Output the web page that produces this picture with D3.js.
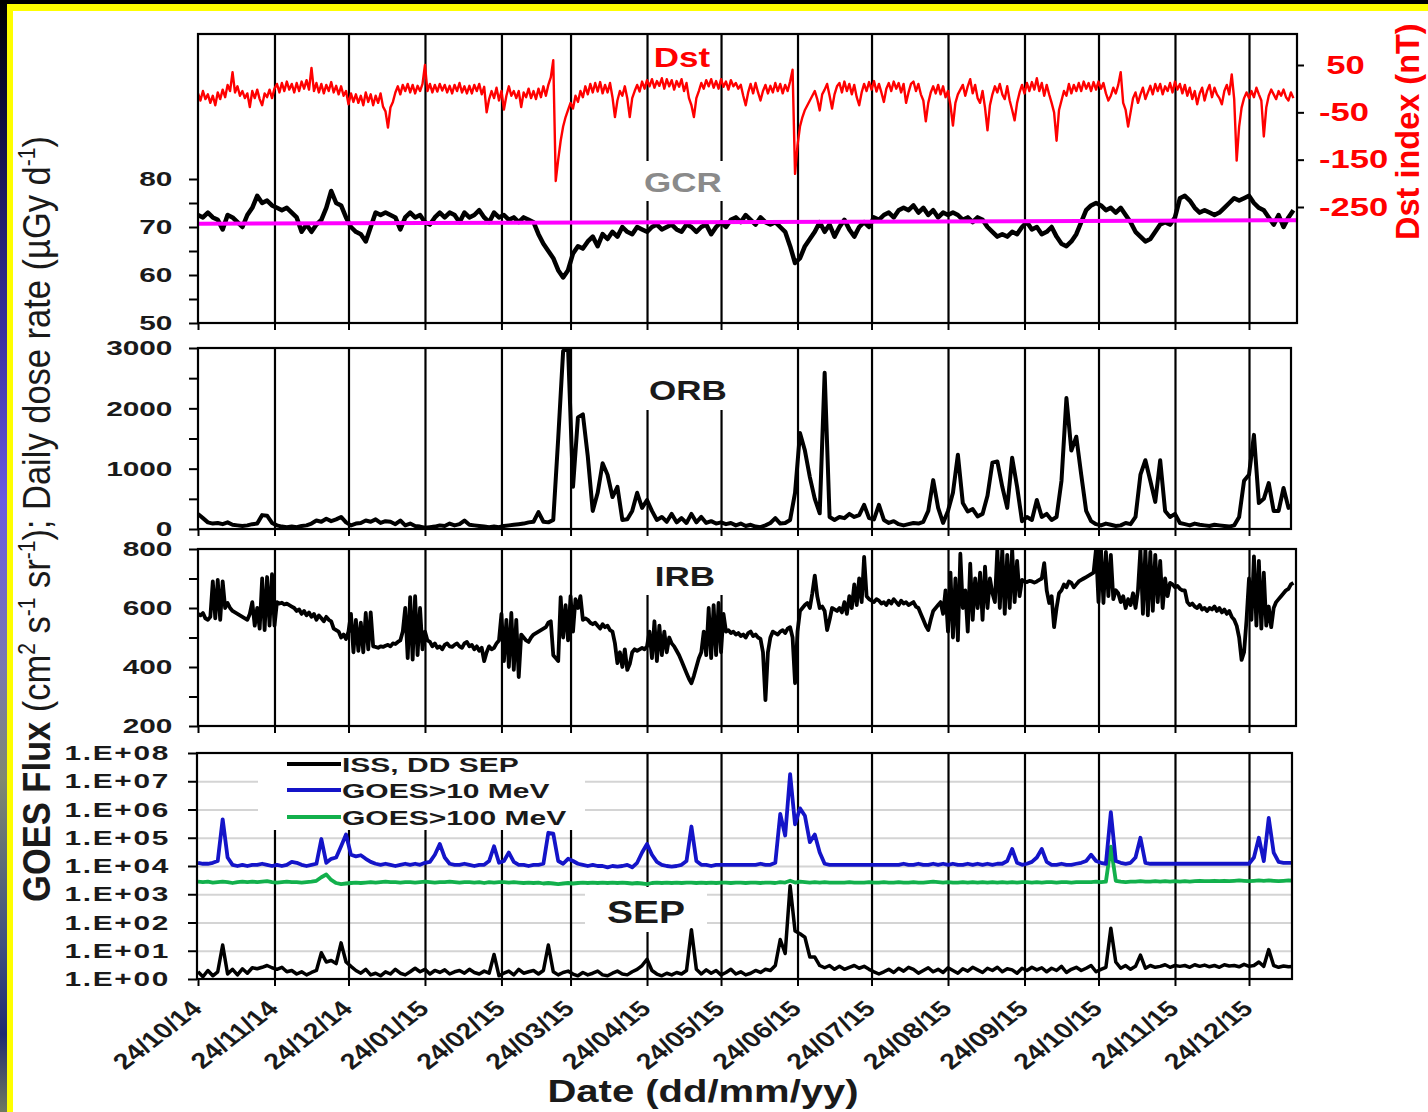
<!DOCTYPE html>
<html lang="en">
<head>
<meta charset="utf-8">
<script src="https://cdnjs.cloudflare.com/ajax/libs/d3/7.8.5/d3.min.js"></script>
<style>
  body { margin: 0; background: #000; }
  svg { display: block; }
  text { font-family: "Liberation Sans", Arial, sans-serif; }
</style>
</head>
<body>
<script>
// ---- data ----
var monthLabels = ["24/10/14","24/11/14","24/12/14","24/01/15","24/02/15","24/03/15","24/04/15",
                   "24/05/15","24/06/15","24/07/15","24/08/15","24/09/15","24/10/15","24/11/15","24/12/15"];

// Dst, one value per day from 24/10/14
var dstValues = [
  -10,-25,-5,-22,-12,-30,-15,-35,-8,-22,  -2,-18,8,-5,35,-8,5,-15,-5,-20,
  -10,-39,-5,-20,-2,-22,-35,-10,-18,-2,  -20,0,10,-8,12,-5,15,-2,10,-8,
  12,-5,15,0,18,-2,44,-5,12,-8,  10,-10,8,-5,14,-8,6,-12,5,-15,
  -5,-33,-10,-28,-12,-30,-15,-35,-8,-28,  -12,-35,-15,-30,-10,-38,-48,-82,-40,-28,
  -8,5,-12,8,-5,10,-8,8,-10,6,  -5,10,50,-5,10,-8,8,-6,10,-4,
  8,-8,6,-10,8,-5,12,-8,5,-10,  6,-10,8,-5,10,-12,4,-50,-22,-5,
  -20,2,-25,-5,-44,-15,5,-15,-5,-20,  -5,-39,-8,-18,0,-20,-5,-22,0,-18,
  5,-15,8,24,60,-195,-150,-110,-80,-60,  -45,-30,-42,-15,-28,-5,-18,5,-12,10,
  -8,12,-6,14,-10,8,-8,12,-18,-60,  -25,-5,-15,5,-20,-60,-20,-5,8,-6,
  15,0,18,5,20,2,16,6,22,0,  20,5,18,-2,16,4,20,-5,12,-20,
  -35,-60,-20,-5,12,0,18,5,20,2,  16,0,20,4,15,-2,18,5,12,0,
  8,-15,-35,-8,10,-10,12,-8,-25,-5,  8,-10,6,-8,12,-5,10,-10,8,-5,
  15,40,-180,-120,-80,-60,-45,-35,-25,-15,  -5,-22,-46,-12,-2,10,-15,-42,-12,5,
  12,-8,15,-5,10,-12,8,-18,-35,-8,  10,-5,14,-2,16,-6,10,-8,-28,0,
  12,-5,15,0,12,-8,10,-30,-8,10,  15,-5,10,-12,-25,-69,-30,-8,5,-10,
  8,-12,5,-18,-5,-35,-78,-30,-12,-2,  8,-15,5,20,-10,8,-20,-30,-5,-40,
  -88,-35,-12,5,-8,10,-12,-22,5,-25,  -45,-67,-30,-8,8,-10,12,-5,14,-2,
  22,-5,12,-15,8,-12,-30,-50,-110,-45,  -25,-5,-15,10,-10,8,-5,12,-5,15,
  0,12,-5,14,-2,15,0,12,-10,-25,  -15,2,-10,8,35,-30,-45,-80,-50,-20,
  -8,-30,-12,2,-22,-8,6,-12,10,-5,  10,-12,5,-5,12,-8,15,-2,10,-10,
  8,-15,2,-22,-5,-33,-10,2,-25,-5,  8,-18,2,-12,-20,-33,-5,8,-12,30,
  -22,-152,-80,-40,-20,-8,-20,-5,-18,2,  -12,-25,-101,-40,-15,-2,-12,-22,-5,-15,
  -2,-18,-25,-8,-20
];

// IRB dose rate, one value per day from 24/10/14
var irbValues = [
  580,575,583,565,560,570,690,565,695,560,  690,600,617,600,590,585,580,575,570,565,
  560,580,620,540,600,530,700,525,705,540,  715,540,620,615,618,612,615,610,605,600,
  590,595,580,590,575,585,570,580,560,575,  565,555,570,560,555,530,525,520,500,510,
  495,520,580,450,560,455,550,450,583,460,  585,470,468,465,470,468,472,475,470,480,
  478,485,490,520,600,430,637,425,640,440,  600,460,520,490,485,470,480,465,470,460,
  475,480,470,468,475,480,470,465,480,485,  470,475,460,470,455,465,420,450,470,460,
  465,480,490,580,420,560,400,583,390,560,  366,510,500,490,485,500,510,515,520,525,
  530,535,550,555,440,430,420,637,500,610,  490,640,520,630,600,640,560,565,560,550,
  545,550,540,530,545,535,540,525,520,480,  413,450,400,460,390,410,450,460,455,460,
  465,460,470,520,430,555,420,540,440,520,  450,500,480,470,455,440,420,400,380,360,
  345,370,400,430,450,520,440,600,430,610,  440,617,450,580,520,525,515,520,510,515,
  505,510,500,515,520,505,510,500,495,450,  288,450,500,520,515,510,520,525,515,530,
  535,500,345,520,590,600,610,617,600,650,  710,640,600,605,590,525,560,600,595,590,
  600,585,620,580,640,600,680,610,700,620,  773,640,630,625,620,630,625,615,620,610,
  625,615,630,620,610,625,615,620,610,615,  620,605,600,580,560,540,525,560,590,600,
  610,620,580,660,520,720,500,700,490,784,  600,660,520,750,560,700,600,720,560,740,
  600,700,650,620,800,600,800,580,780,600,  800,620,760,640,695,690,688,692,690,686,
  690,695,700,752,660,617,640,535,600,650,  660,680,670,690,685,670,680,690,695,700,
  705,710,715,720,800,620,800,617,790,640,  780,630,660,650,620,640,600,630,610,650,
  600,660,800,580,800,575,790,590,780,620,  760,600,700,640,685,680,670,675,665,660,
  660,620,610,615,605,600,610,595,600,590,  600,595,605,590,600,585,595,580,590,570,
  560,540,500,424,450,560,700,560,775,540,  760,530,720,540,605,535,600,620,630,640,
  650,660,665,680,685
];

// the other series: one value every second day from 24/10/14
var gcrValues = [
  72.5,72,73,72,71.5,69.5,72.5,72,71,70,  72.5,74,76.5,75,75.5,74.5,74,73.5,74,73,
  72,69,70.5,69,70.5,71.5,74,77.5,75,74.5,  72,70,69,68.5,67,70,73,72.5,73,72.5,
  72,69.5,72,73,72,72.5,71,70.5,72,73,  72,73,72.5,71,73,72,72.5,73.5,72,71,
  73,72,72.5,71.5,72,71,72,71.5,71,68.5,  66.5,65,63.5,61,59.5,61,64.5,66,65.5,67,
  68,66,68.5,67.5,69,68,70,69,68.5,70,  69.5,69,70,70.5,69.5,70,70.5,69.5,69,70.5,
  70,69,70,70.5,68.5,70,71,70,71.5,72,  71,72.5,71.5,70.5,72,71,70.5,71,70,69,
  66,62.5,63.5,66,67.5,69,71,69,70.5,68,  70,71.5,69.5,68,70,71,70,72,71.5,72.5,
  73,72,73.5,74,73.5,74.5,73,74,72.5,73.5,  72,73,72.5,73,72.5,71.5,72,71,72,71.5,
  70,69,68,68.5,68,69,68.5,70,71,69.5,  70,68.5,69,70,68,66.5,66,67,68.5,71,
  73.5,74.5,75,74.5,73.5,74,73,74,72.5,71,  69,68,67,67.5,69,70.5,71,70.5,72,76,
  76.5,75.5,74,73,73.5,73,72.5,73,74,75,  76,75.5,76,76.5,75,74,73.5,72,70.5,72.5,
  70,72,73.5
];
var gcrTrendDays = [0, 446];
var gcrTrendValues = [70.7, 71.4];

var orbValues = [
  250,180,110,90,100,80,110,70,60,50,  60,80,90,230,220,100,60,40,30,40,
  30,50,60,90,140,120,170,130,160,200,  110,60,90,100,140,120,160,100,130,120,
  80,140,60,90,50,40,20,30,40,60,  50,90,60,80,140,70,60,50,40,30,
  40,30,50,60,70,80,90,110,120,280,  120,110,150,1500,2950,3000,700,1850,1900,1200,
  300,600,1090,900,530,700,150,160,300,600,  350,480,300,150,200,120,250,110,180,100,
  250,110,200,100,130,90,110,80,100,60,  90,50,70,40,30,60,100,180,90,100,
  150,600,1590,1300,860,500,260,2590,200,150,  200,180,250,200,230,400,180,160,400,150,
  100,130,80,60,80,100,90,120,300,810,  350,100,300,600,1230,430,290,330,210,250,
  550,1100,1120,700,350,1180,700,130,200,150,  480,200,250,150,200,800,2170,1300,1530,900,
  300,130,80,60,90,70,50,60,100,80,  200,900,1140,800,450,1140,300,200,250,100,
  80,60,90,70,60,50,70,60,50,40,  60,200,800,900,1560,430,500,760,300,300,
  680,350,420
];

var goes10Values = [
  1.3e4,1.2e4,1.2e4,1.3e4,1.5e4,4.5e5,2e4,1.1e4,1.0e4,1.1e4,  1.0e4,1.1e4,1.1e4,1.2e4,1.1e4,1.0e4,1.1e4,1.0e4,1.1e4,1.4e4,
  1.3e4,1.1e4,1.0e4,1.1e4,1.2e4,9e4,1.3e4,1.8e4,2e4,5e4,  1.3e5,2.5e4,2.2e4,2.4e4,1.8e4,1.4e4,1.2e4,1.1e4,1.2e4,1.1e4,
  1.0e4,1.1e4,1.2e4,1.1e4,1.2e4,1.1e4,1.3e4,1.4e4,2.5e4,6e4,  2e4,1.2e4,1.1e4,1.1e4,1.2e4,1.1e4,1.0e4,1.1e4,1.1e4,1.5e4,
  5e4,1.3e4,1.5e4,3e4,1.4e4,1.1e4,1.1e4,1.0e4,1.1e4,1.1e4,  1.2e4,1.5e5,1.4e5,1.5e4,1.2e4,1.8e4,1.5e4,1.2e4,1.1e4,1.0e4,
  1.1e4,1.0e4,1.0e4,9e3,1.0e4,9.5e3,1.0e4,1.1e4,9e3,1.3e4,  3e4,6e4,2.5e4,1.4e4,1.1e4,1.0e4,9.5e3,1.0e4,1.1e4,1.5e4,
  2.5e5,1.5e4,1.1e4,1.1e4,1.0e4,1.1e4,1.1e4,1.1e4,1.1e4,1.1e4,  1.1e4,1.1e4,1.1e4,1.1e4,1.2e4,1.1e4,1.1e4,1.3e4,7e5,1.2e5,
  1.8e7,3e5,1.1e6,6e5,7e4,1.3e5,3e4,1.2e4,1.1e4,1.1e4,  1.1e4,1.1e4,1.1e4,1.1e4,1.1e4,1.1e4,1.1e4,1.1e4,1.1e4,1.1e4,
  1.1e4,1.1e4,1.1e4,1.2e4,1.1e4,1.1e4,1.2e4,1.1e4,1.1e4,1.2e4,  1.1e4,1.2e4,1.1e4,1.2e4,1.1e4,1.1e4,1.2e4,1.1e4,1.2e4,1.1e4,
  1.2e4,1.1e4,1.2e4,1.2e4,1.5e4,4e4,1.3e4,1.1e4,1.2e4,1.4e4,  2e4,4e4,1.4e4,1.1e4,1.1e4,1.2e4,1.1e4,1.1e4,1.2e4,1.3e4,
  1.5e4,2.5e4,1.5e4,1.3e4,1.2e4,8e5,1.5e4,1.3e4,1.2e4,1.3e4,  2e4,1e5,1.3e4,1.2e4,1.2e4,1.2e4,1.2e4,1.2e4,1.2e4,1.2e4,
  1.2e4,1.2e4,1.2e4,1.2e4,1.2e4,1.2e4,1.2e4,1.2e4,1.2e4,1.2e4,  1.2e4,1.2e4,1.2e4,1.2e4,2e4,1e5,1.5e4,5e5,3e4,1.4e4,
  1.3e4,1.3e4,1.3e4
];

var goes100Values = [
  2.8e3,2.7e3,2.8e3,2.6e3,2.7e3,2.8e3,2.7e3,2.5e3,2.7e3,2.8e3,  2.7e3,2.8e3,2.7e3,2.8e3,2.9e3,2.7e3,2.6e3,2.7e3,2.8e3,2.7e3,
  2.7e3,2.6e3,2.7e3,2.8e3,3.0e3,4.0e3,5.0e3,3.2e3,2.5e3,2.3e3,  2.4e3,2.5e3,2.6e3,2.5e3,2.6e3,2.7e3,2.6e3,2.7e3,2.8e3,2.7e3,
  2.7e3,2.6e3,2.7e3,2.7e3,2.6e3,2.7e3,2.8e3,2.7e3,2.6e3,2.7e3,  2.7e3,2.8e3,2.7e3,2.6e3,2.7e3,2.7e3,2.6e3,2.7e3,2.5e3,2.7e3,
  2.6e3,2.7e3,2.7e3,2.6e3,2.7e3,2.6e3,2.5e3,2.6e3,2.5e3,2.6e3,  2.4e3,2.5e3,2.4e3,2.3e3,2.4e3,2.5e3,2.4e3,2.5e3,2.6e3,2.5e3,
  2.6e3,2.5e3,2.6e3,2.5e3,2.6e3,2.5e3,2.6e3,2.5e3,2.4e3,2.5e3,  2.4e3,2.3e3,2.5e3,2.6e3,2.5e3,2.6e3,2.5e3,2.6e3,2.5e3,2.6e3,
  2.6e3,2.5e3,2.6e3,2.5e3,2.6e3,2.5e3,2.6e3,2.6e3,2.5e3,2.6e3,  2.6e3,2.5e3,2.6e3,2.6e3,2.5e3,2.6e3,2.6e3,2.5e3,2.7e3,2.6e3,
  3.0e3,2.6e3,2.8e3,2.7e3,2.6e3,2.7e3,2.6e3,2.7e3,2.6e3,2.6e3,  2.6e3,2.6e3,2.7e3,2.6e3,2.6e3,2.6e3,2.7e3,2.6e3,2.6e3,2.7e3,
  2.6e3,2.6e3,2.7e3,2.6e3,2.6e3,2.7e3,2.6e3,2.6e3,2.7e3,2.8e3,  2.7e3,2.6e3,2.7e3,2.6e3,2.6e3,2.7e3,2.6e3,2.7e3,2.6e3,2.7e3,
  2.6e3,2.7e3,2.6e3,2.7e3,2.6e3,2.7e3,2.6e3,2.7e3,2.7e3,2.6e3,  2.7e3,2.6e3,2.7e3,2.7e3,2.6e3,2.7e3,2.7e3,2.6e3,2.7e3,2.7e3,
  2.7e3,2.7e3,2.8e3,2.7e3,2.8e3,4.8e4,3.0e3,2.8e3,2.7e3,2.8e3,  2.8e3,2.9e3,2.8e3,2.8e3,2.9e3,2.8e3,2.9e3,2.8e3,2.9e3,2.8e3,
  2.9e3,2.8e3,2.9e3,3.0e3,2.9e3,2.9e3,3.0e3,2.9e3,3.0e3,2.9e3,  3.0e3,3.1e3,3.0e3,2.9e3,3.0e3,3.1e3,3.0e3,3.1e3,3.0e3,2.9e3,
  3.0e3,3.1e3,3.0e3
];

var sepValues = [
  1.8,1.2,2.0,1.3,1.8,16,1.5,2.2,1.4,2.3,  1.6,2.5,2.3,2.6,3.0,2.5,2.2,2.6,1.8,2.0,
  1.5,1.8,1.4,1.7,2.0,8.5,4.0,4.5,3.5,19,  4.0,2.8,2.0,1.6,2.2,1.4,1.6,1.3,1.8,1.5,
  2.2,1.6,1.4,1.8,2.4,1.8,2.2,1.5,2.0,1.7,  2.1,1.5,1.8,2.0,1.6,2.2,1.7,1.5,1.9,1.6,
  7.4,1.3,1.6,1.9,1.4,2.2,1.6,1.8,2.0,1.5,  2.0,16,1.8,1.4,1.7,1.9,1.5,1.3,1.7,1.4,
  1.6,1.9,1.4,1.3,1.6,1.9,1.5,1.4,1.8,2.2,  3.0,5.0,2.0,1.5,1.3,1.6,1.4,1.7,1.5,2.0,
  55,2.2,1.5,2.1,1.6,2.0,1.4,1.7,2.2,1.5,  1.8,1.4,1.6,2.0,1.7,2.2,2.0,3.0,25,8,
  2000,50,40,30,6,6,3.0,2.5,3.0,2.2,  2.8,2.2,2.6,3.0,2.4,2.8,2.2,1.8,1.5,1.8,
  2.2,1.7,2.4,1.9,2.6,2.2,1.6,2.0,2.5,1.8,  2.2,1.7,2.5,2.0,1.6,2.3,1.9,2.6,2.1,1.7,
  2.4,2.0,2.6,1.8,2.3,2.1,1.6,2.4,2.0,2.6,  2.1,2.5,1.8,2.4,2.0,2.8,1.7,2.2,2.6,2.0,
  2.4,3.0,1.8,2.2,2.6,63,4.0,2.4,3.0,2.2,  2.8,7.0,2.4,3.0,2.6,2.8,3.2,2.6,3.0,2.8,
  3.0,2.6,3.2,2.8,3.1,2.7,3.0,2.6,3.2,2.9,  3.0,2.7,3.3,2.8,3.0,4.0,2.8,11,3.0,2.6,
  2.9,2.7,2.8
];

var gcrTicks = [50, 55, 60, 65, 70, 75, 80];
var dstTicks = [50, -50, -150, -250];
var orbTicks = [0, 500, 1000, 1500, 2000, 2500, 3000];
var irbTicks = [200, 300, 400, 500, 600, 700, 800];
var goesTicks = [1, 1e1, 1e2, 1e3, 1e4, 1e5, 1e6, 1e7, 1e8];
var goesTickLabels = ["1.E+00","1.E+01","1.E+02","1.E+03","1.E+04","1.E+05","1.E+06","1.E+07","1.E+08"];
var legendNames = ["ISS, DD  SEP", "GOES>10 MeV", "GOES>100 MeV"];

// ---- layout ----
var width = 1428, height = 1112;
var pTop  = {x0: 198, x1: 1297, y0: 34,  y1: 323};
var pOrb  = {x0: 198, x1: 1291, y0: 348, y1: 529};
var pIrb  = {x0: 198, x1: 1296, y0: 549, y1: 726};
var pGoes = {x0: 197, x1: 1292, y0: 753, y1: 979};

var parseDay = d3.timeParse("%d/%m/%y");
var monthDates = monthLabels.map(parseDay);
var startDate = monthDates[0];

function series(values, step) {
  return values.map(function (v, i) {
    return {date: d3.timeDay.offset(startDate, i * step), value: v};
  });
}

var x = d3.scaleTime()
    .domain([monthDates[0], monthDates[monthDates.length - 1]])
    .range([198, 1249]);

var yDst  = d3.scaleLinear().domain([-250, 50]).range([207, 65]);
var yGcr  = d3.scaleLinear().domain([50, 80]).range([323, 179]);
var yOrb  = d3.scaleLinear().domain([0, 3000]).range([529, 348]);
var yIrb  = d3.scaleLinear().domain([200, 800]).range([726, 549]);
var yGoes = d3.scaleLog().domain([1, 1e8]).range([979, 753]);

var svg = d3.select("body").append("svg")
    .attr("width", width)
    .attr("height", height);

// background: slide frame
var defs = svg.append("defs");
var grad = defs.append("linearGradient").attr("id", "strip")
    .attr("x1", 0).attr("y1", 0).attr("x2", 0).attr("y2", 1);
[[0, "#000"], [0.08, "#0a0a30"], [0.3, "#3a30a0"], [0.45, "#6a5ae0"], [0.6, "#7a78b0"],
 [0.7, "#808870"], [0.85, "#405080"], [0.93, "#202a70"], [1, "#707a60"]].forEach(function (s) {
  grad.append("stop").attr("offset", s[0]).attr("stop-color", s[1]);
});

svg.append("rect").attr("width", width).attr("height", height).attr("fill", "#000");
svg.append("rect").attr("x", 0).attr("y", 0).attr("width", 7).attr("height", height).attr("fill", "url(#strip)");
svg.append("rect").attr("x", 13).attr("y", 11).attr("width", width - 13).attr("height", height - 11).attr("fill", "#fff");

function clipFor(id, p) {
  defs.append("clipPath").attr("id", id).append("rect")
      .attr("x", p.x0).attr("y", p.y0).attr("width", p.x1 - p.x0).attr("height", p.y1 - p.y0);
  return "url(#" + id + ")";
}

function vGrid(p) {
  svg.append("g")
      .attr("transform", "translate(0," + p.y1 + ")")
      .call(d3.axisBottom(x).tickValues(monthDates.slice(1)).tickSize(-(p.y1 - p.y0)).tickFormat(""))
      .call(function (g) { g.select(".domain").remove(); })
      .selectAll("line").attr("stroke", "#000").attr("stroke-width", 2.2);
}

function whiteBox(x0, y0, x1, y1) {
  svg.append("rect").attr("x", x0).attr("y", y0).attr("width", x1 - x0).attr("height", y1 - y0).attr("fill", "#fff");
}

function frame(p) {
  svg.append("rect").attr("x", p.x0).attr("y", p.y0)
      .attr("width", p.x1 - p.x0).attr("height", p.y1 - p.y0)
      .attr("fill", "none").attr("stroke", "#000").attr("stroke-width", 2.2);
  svg.append("g")
      .attr("transform", "translate(0," + p.y1 + ")")
      .call(d3.axisBottom(x).tickValues(monthDates).tickSize(7).tickFormat(""))
      .call(function (g) { g.select(".domain").remove(); })
      .selectAll("line").attr("stroke", "#000").attr("stroke-width", 2);
}

function leftAxis(p, scale, ticks, fmt) {
  var g = svg.append("g")
      .attr("transform", "translate(" + p.x0 + ",0)")
      .call(d3.axisLeft(scale).tickValues(ticks).tickSize(9).tickFormat(fmt));
  g.select(".domain").remove();
  g.selectAll("line").attr("stroke", "#000").attr("stroke-width", 2);
  g.selectAll("text")
      .attr("x", -18)
      .attr("transform", "scale(1.42,1)")
      .attr("font-size", 21)
      .attr("font-weight", "bold")
      .attr("fill", "#1a1a1a");
  return g;
}

function drawLine(data, yScale, color, w, clip) {
  svg.append("path")
      .datum(data)
      .attr("clip-path", clip)
      .attr("fill", "none")
      .attr("stroke", color)
      .attr("stroke-width", w)
      .attr("stroke-linejoin", "round")
      .attr("d", d3.line().x(function (d) { return x(d.date); }).y(function (d) { return yScale(d.value); }));
}

function label(txt, cx, baseY, size, color, sx) {
  svg.append("text")
      .attr("transform", "translate(" + cx + "," + baseY + ") scale(" + sx + ",1)")
      .attr("text-anchor", "middle")
      .attr("font-size", size)
      .attr("font-weight", "bold")
      .attr("fill", color)
      .text(txt);
}

// ---- panel 1: Dst + GCR ----
var clipTop = clipFor("cTop", pTop);
vGrid(pTop);
whiteBox(640, 161, 730, 201);
drawLine(series(dstValues, 1), yDst, "#ff0000", 2.4, clipTop);
drawLine(series(gcrValues, 2), yGcr, "#000", 4.5, clipTop);
drawLine(gcrTrendDays.map(function (d, i) {
  return {date: d3.timeDay.offset(startDate, d), value: gcrTrendValues[i]};
}), yGcr, "#ff00ff", 4, clipTop);
frame(pTop);
leftAxis(pTop, yGcr, gcrTicks, function (d) { return d % 10 === 0 ? d : ""; });

var gDst = svg.append("g")
    .attr("transform", "translate(" + pTop.x1 + ",0)")
    .call(d3.axisRight(yDst).tickValues(dstTicks).tickSize(7).tickFormat(function (d) { return String(d); }));
gDst.select(".domain").remove();
gDst.selectAll("line").attr("stroke", "#000").attr("stroke-width", 2);
gDst.selectAll("text")
    .attr("x", function (d) { return d > 0 ? 22 : 16.5; })
    .attr("text-anchor", "start")
    .attr("transform", "scale(1.33,1)")
    .attr("font-size", 26)
    .attr("font-weight", "bold")
    .attr("fill", "#ff0000");

label("Dst", 682, 67, 28, "#ff0000", 1.25);
label("GCR", 683, 192, 28, "#8a8a8a", 1.25);

// ---- panel 2: ORB ----
var clipOrb = clipFor("cOrb", pOrb);
vGrid(pOrb);
whiteBox(640, pOrb.y0, 730, 410);
drawLine(series(orbValues, 2), yOrb, "#000", 4, clipOrb);
frame(pOrb);
leftAxis(pOrb, yOrb, orbTicks, function (d) { return d % 1000 === 0 ? d : ""; });
label("ORB", 688, 400, 28, "#1a1a1a", 1.25);

// ---- panel 3: IRB ----
var clipIrb = clipFor("cIrb", pIrb);
vGrid(pIrb);
whiteBox(640, pIrb.y0, 730, 595);
drawLine(series(irbValues, 1), yIrb, "#000", 3.8, clipIrb);
frame(pIrb);
leftAxis(pIrb, yIrb, irbTicks, function (d) { return d % 200 === 0 ? d : ""; });
label("IRB", 685, 586, 28, "#1a1a1a", 1.25);

// ---- panel 4: GOES / SEP ----
var clipGoes = clipFor("cGoes", pGoes);
svg.append("g")
    .attr("transform", "translate(" + pGoes.x0 + ",0)")
    .call(d3.axisLeft(yGoes).tickValues(goesTicks.slice(1, -1)).tickSize(-(pGoes.x1 - pGoes.x0)).tickFormat(""))
    .call(function (g) { g.select(".domain").remove(); })
    .selectAll("line").attr("stroke", "#d4d4d4").attr("stroke-width", 2);
vGrid(pGoes);
whiteBox(258, pGoes.y0 + 1, 585, 830);
whiteBox(585, 887, 707, 932);
drawLine(series(goes100Values, 2), yGoes, "#12b04c", 3.8, clipGoes);
drawLine(series(goes10Values, 2), yGoes, "#1414c8", 3.8, clipGoes);
drawLine(series(sepValues, 2), yGoes, "#000", 3.5, clipGoes);
frame(pGoes);
leftAxis(pGoes, yGoes, goesTicks, function (d, i) { return goesTickLabels[i]; })
    .selectAll("text").attr("letter-spacing", 1.2).attr("x", -19);
label("SEP", 646, 923, 32, "#1a1a1a", 1.22);

// legend
var legendColors = ["#000", "#1414c8", "#12b04c"];
var legendY = [764, 790, 817];
legendNames.forEach(function (name, i) {
  svg.append("line")
      .attr("x1", 287).attr("x2", 341)
      .attr("y1", legendY[i]).attr("y2", legendY[i])
      .attr("stroke", legendColors[i]).attr("stroke-width", 4);
  svg.append("text")
      .attr("transform", "translate(342," + (legendY[i] + 7.5) + ") scale(1.5,1)")
      .attr("font-size", 20)
      .attr("font-weight", "bold")
      .attr("fill", "#1a1a1a")
      .text(name);
});

// date axis labels
var gx = svg.append("g")
    .attr("transform", "translate(0," + pGoes.y1 + ")")
    .call(d3.axisBottom(x).tickValues(monthDates).tickSize(0).tickFormat(function (d, i) { return monthLabels[i]; }));
gx.select(".domain").remove();
gx.selectAll("text")
    .attr("y", null).attr("dy", null)
    .attr("text-anchor", "end")
    .attr("transform", "translate(5,31) scale(1.3,1) rotate(-45)")
    .attr("font-size", 22)
    .attr("font-weight", "bold")
    .attr("fill", "#1a1a1a");

// axis titles
svg.append("text")
    .attr("transform", "translate(703,1102) scale(1.25,1)")
    .attr("text-anchor", "middle")
    .attr("font-size", 32)
    .attr("font-weight", "bold")
    .attr("fill", "#1a1a1a")
    .text("Date (dd/mm/yy)");

var title = svg.append("text")
    .attr("transform", "translate(50,519) scale(1.12,1) rotate(-90)")
    .attr("text-anchor", "middle")
    .attr("font-size", 34.5)
    .attr("fill", "#1a1a1a");
title.append("tspan").attr("font-weight", "bold").text("GOES Flux");
title.append("tspan").text(" (cm");
title.append("tspan").attr("dy", -13).attr("font-size", 21).text("2");
title.append("tspan").attr("dy", 13).text(" s");
title.append("tspan").attr("dy", -13).attr("font-size", 21).text("-1");
title.append("tspan").attr("dy", 13).text(" sr");
title.append("tspan").attr("dy", -13).attr("font-size", 21).text("-1");
title.append("tspan").attr("dy", 13).text("); Daily dose rate (\u00b5Gy d");
title.append("tspan").attr("dy", -13).attr("font-size", 21).text("-1");
title.append("tspan").attr("dy", 13).text(")");

svg.append("text")
    .attr("transform", "translate(1419,240) rotate(-90)")
    .attr("text-anchor", "start")
    .attr("font-size", 32.5)
    .attr("font-weight", "bold")
    .attr("fill", "#ff0000")
    .text("Dst index (nT)");

// yellow frame drawn last so it sits on top
svg.append("rect").attr("x", 0).attr("y", 0).attr("width", width).attr("height", 4).attr("fill", "#000");
svg.append("rect").attr("x", 7).attr("y", 4).attr("width", width - 7).attr("height", 7).attr("fill", "#ffff00");
svg.append("rect").attr("x", 7).attr("y", 4).attr("width", 6).attr("height", height - 4).attr("fill", "#ffff00");
</script>
</body>
</html>
